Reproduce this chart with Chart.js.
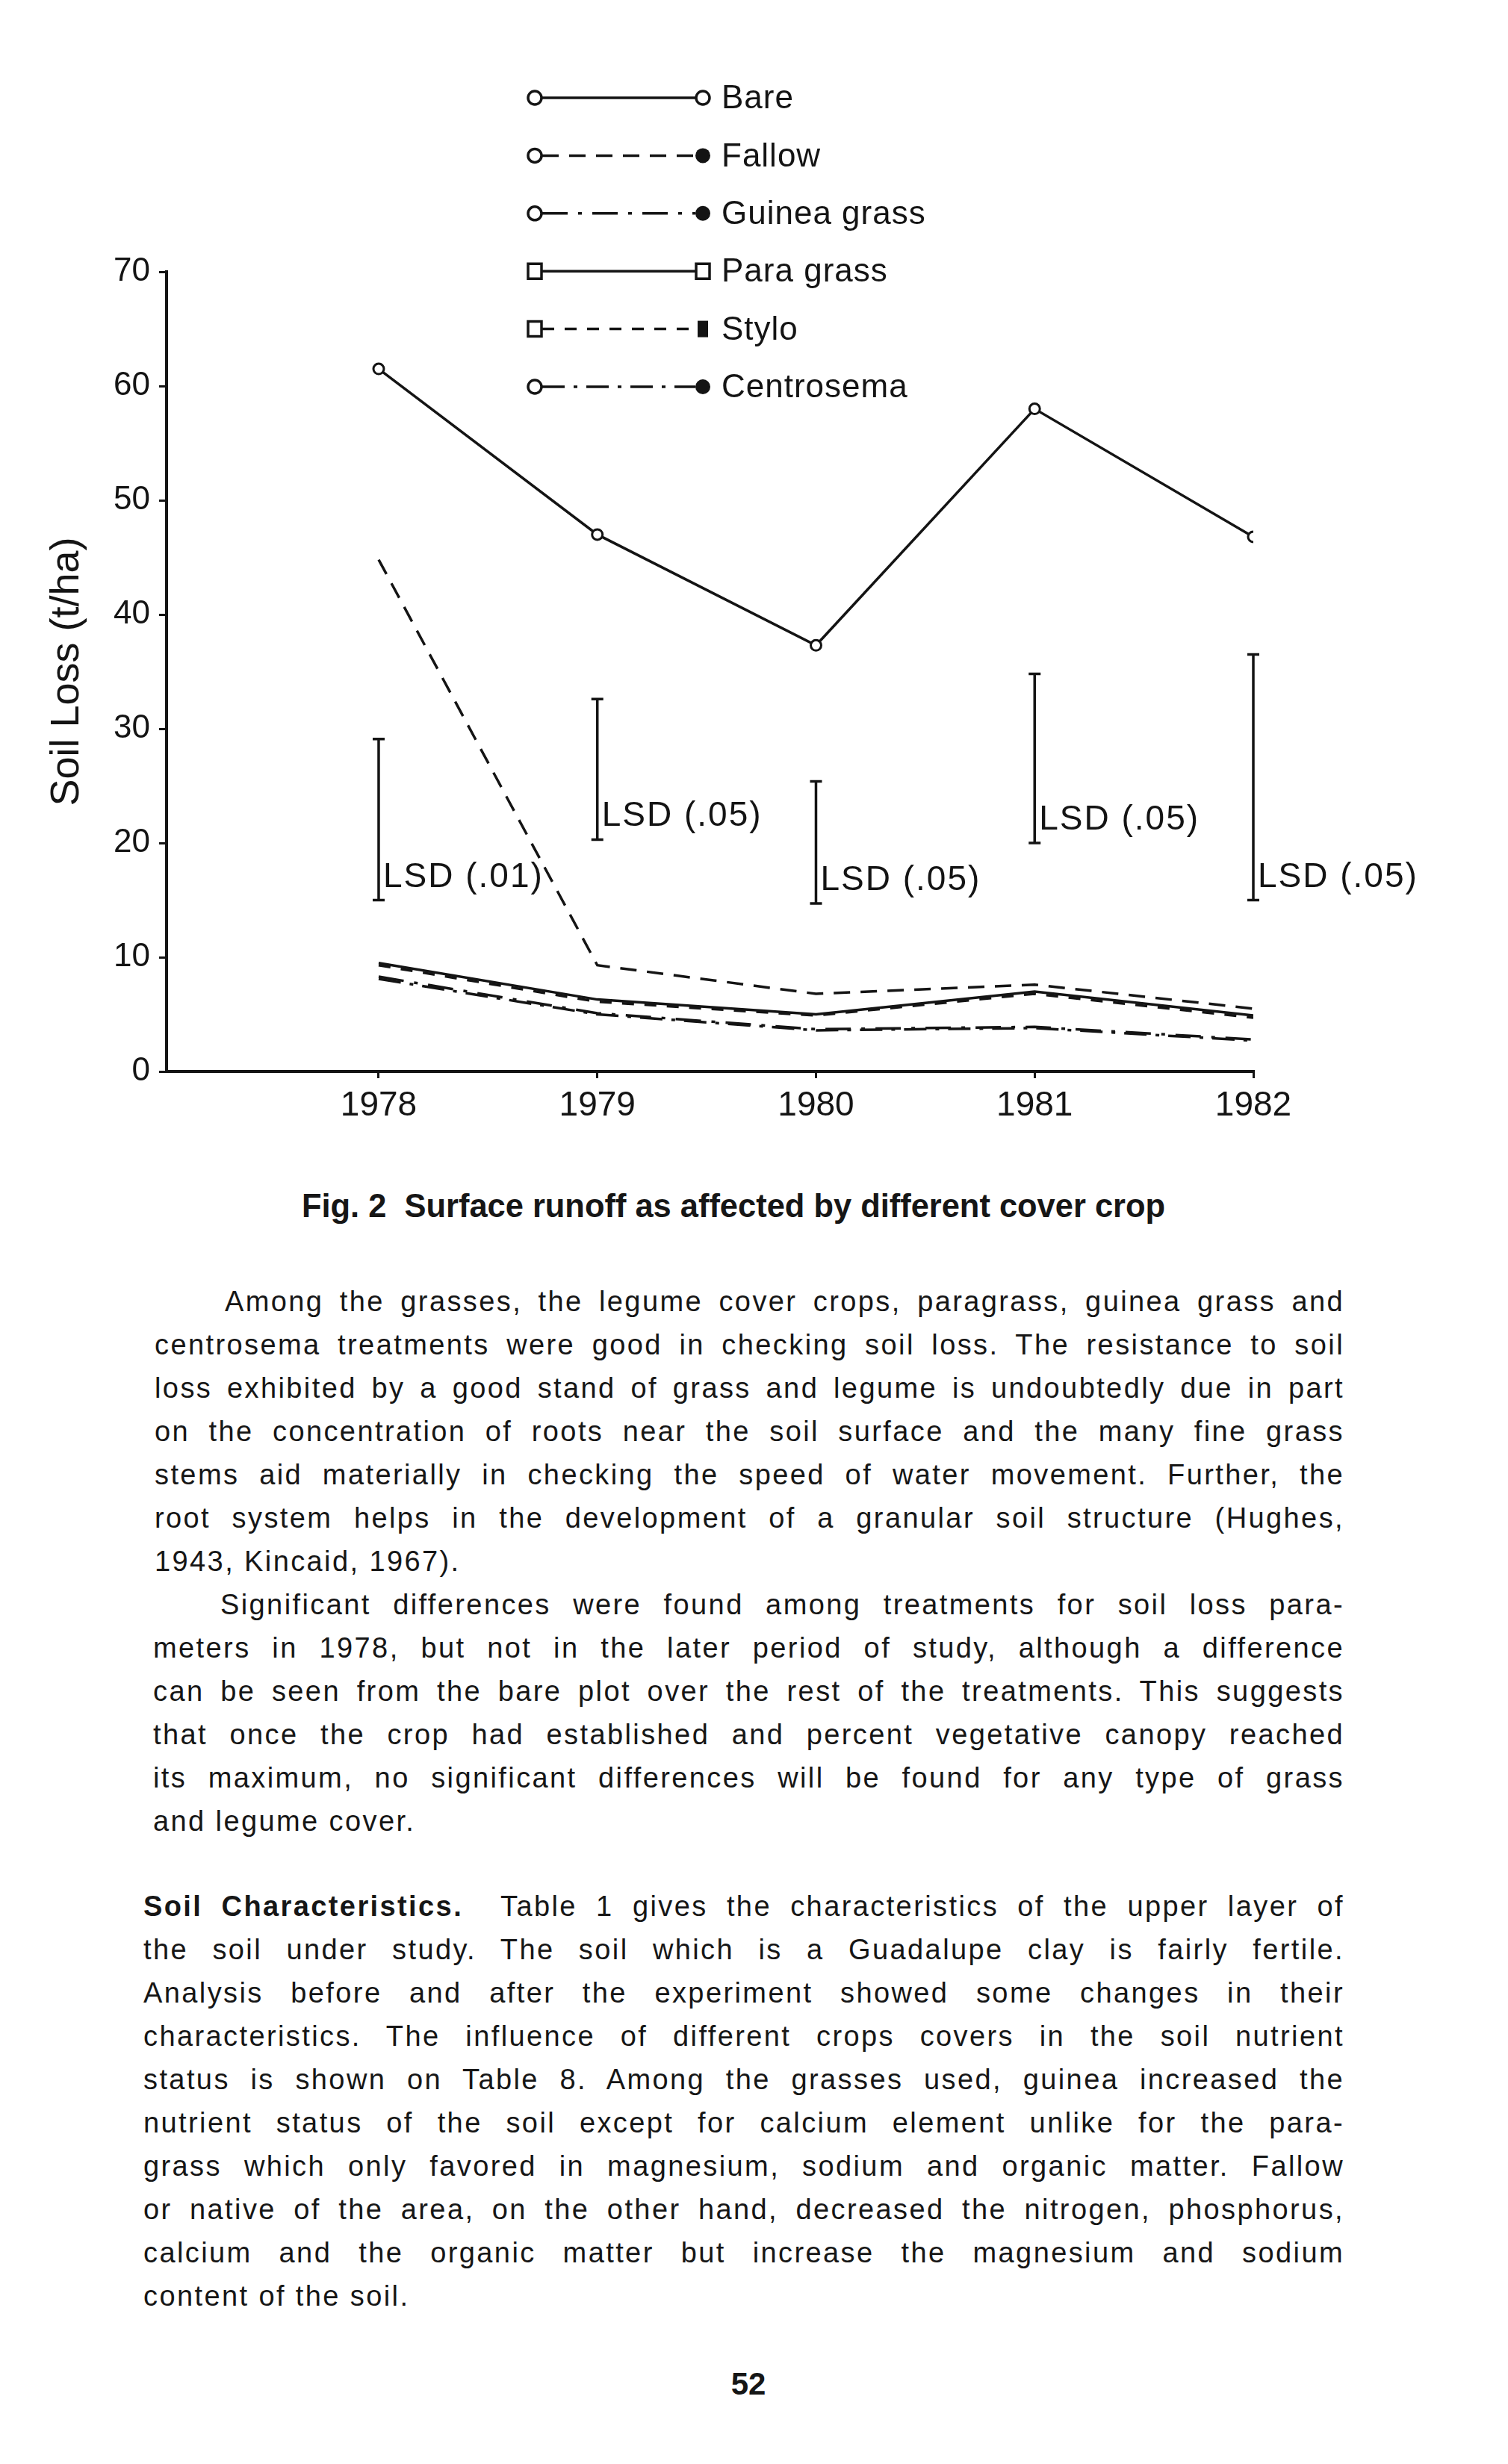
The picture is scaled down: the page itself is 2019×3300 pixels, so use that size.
<!DOCTYPE html>
<html>
<head>
<meta charset="utf-8">
<title>Fig. 2 Surface runoff as affected by different cover crop</title>
<script src="https://cdn.jsdelivr.net/npm/chart.js@4.4.0/dist/chart.umd.min.js"></script>
<style>
  html, body { margin: 0; padding: 0; background: #fff; }
  body {
    width: 2019px; height: 3300px; position: relative; overflow: hidden;
    font-family: 'Liberation Sans', Arial, sans-serif; color: #161616;
  }
  #chartBox { position: absolute; left: 0; top: 0; width: 2019px; height: 1560px; }
  .line {
    position: absolute; height: 58px; line-height: 58px;
    font-size: 38px; letter-spacing: 2.4px; white-space: nowrap;
    text-align: left; transform-origin: left center;
  }
  .line.just { text-align: justify; text-align-last: justify; }
  .caption {
    position: absolute; left: 404px; top: 1590px; width: 1156px;
    height: 50px; line-height: 50px; font-size: 44px; font-weight: bold;
    white-space: nowrap; transform-origin: left center;
  }
  .pageno {
    position: absolute; left: 952px; top: 3168px; width: 100px;
    text-align: center; font-size: 42px; font-weight: bold; line-height: 50px;
  }
</style>
</head>
<body>
<div id="chartBox"><canvas id="runoffChart" width="2019" height="1560"></canvas></div>
<div class="caption" id="caption">Fig. 2&nbsp; Surface runoff as affected by different cover crop</div>
<div id="bodyText"></div>
<div class="pageno">52</div>

<script>
'use strict';

// ── Data ────────────────────────────────────────────────────────────────────
const years       = [1978, 1979, 1980, 1981, 1982];
const bare        = [61.5, 47.0, 37.3, 58.0, 46.8];
const fallow      = [44.8, 9.3, 6.8, 7.6, 5.5];
const guineaGrass = [8.3, 5.1, 3.7, 3.9, 2.8];
const paraGrass   = [9.5, 6.3, 5.0, 7.0, 4.9];
const stylo       = [9.3, 6.1, 4.9, 6.8, 4.7];
const centrosema  = [8.1, 5.0, 3.6, 3.8, 2.7];

const yTicks = [0, 10, 20, 30, 40, 50, 60, 70];

// LSD bars per year
const lsdLow    = [15.0, 20.3, 14.7, 20.0, 15.0];
const lsdHigh   = [29.1, 32.6, 25.4, 34.8, 36.5];
const lsdLabels = ['LSD (.01)', 'LSD (.05)', 'LSD (.05)', 'LSD (.05)', 'LSD (.05)'];

// ── Style ───────────────────────────────────────────────────────────────────
const INK  = '#141414';
const FONT = "'Liberation Sans', Arial, sans-serif";
const X_MIN = 1977.03;

const toPoints = (vals) => years.map((yr, i) => ({ x: yr, y: vals[i] }));

const lineBase = {
  borderColor: INK,
  borderWidth: 3.5,
  pointRadius: 0,
  pointHoverRadius: 0,
  tension: 0,
  fill: false,
};

const datasets = [
  { ...lineBase, label: 'Bare', data: toPoints(bare), borderDash: [],
    pointRadius: 7, pointStyle: 'circle', pointBackgroundColor: '#fff',
    pointBorderColor: INK, pointBorderWidth: 3,
    legendStart: 'ring', legendEnd: 'ring' },
  { ...lineBase, label: 'Fallow', data: toPoints(fallow), borderDash: [22, 14],
    legendStart: 'ring', legendEnd: 'dot' },
  { ...lineBase, label: 'Guinea grass', data: toPoints(guineaGrass), borderDash: [34, 14, 5, 14],
    legendStart: 'ring', legendEnd: 'dot' },
  { ...lineBase, label: 'Para grass', data: toPoints(paraGrass), borderDash: [],
    legendStart: 'box', legendEnd: 'box' },
  { ...lineBase, label: 'Stylo', data: toPoints(stylo), borderDash: [16, 14],
    legendStart: 'box', legendEnd: 'block' },
  { ...lineBase, label: 'Centrosema', data: toPoints(centrosema), borderDash: [30, 12, 5, 12],
    legendStart: 'ring', legendEnd: 'dot' },
];

// ── Legend drawn like the printed key (line + end markers) ─────────────────
const LEG_X0 = 716, LEG_X1 = 941, LEG_TEXT_X = 966, LEG_Y0 = 131, LEG_STEP = 77.4;

function drawMarker(ctx, kind, x, y) {
  ctx.save();
  ctx.setLineDash([]);
  ctx.lineWidth = 3.5;
  ctx.strokeStyle = INK;
  ctx.fillStyle = INK;
  ctx.beginPath();
  if (kind === 'ring') {
    ctx.arc(x, y, 9, 0, Math.PI * 2);
    ctx.fillStyle = '#fff'; ctx.fill(); ctx.stroke();
  } else if (kind === 'dot') {
    ctx.arc(x, y, 10, 0, Math.PI * 2);
    ctx.fill();
  } else if (kind === 'box') {
    ctx.rect(x - 9, y - 10, 18, 20);
    ctx.fillStyle = '#fff'; ctx.fill(); ctx.stroke();
  } else if (kind === 'block') {
    ctx.rect(x - 7, y - 11, 14, 22);
    ctx.fill();
  }
  ctx.restore();
}

const paperLegend = {
  id: 'paperLegend',
  afterDraw(chart) {
    const ctx = chart.ctx;
    ctx.save();
    ctx.font = `44px ${FONT}`;
    ctx.letterSpacing = '1px';
    ctx.textBaseline = 'middle';
    ctx.fillStyle = INK;
    chart.data.datasets.forEach((ds, i) => {
      const yy = LEG_Y0 + i * LEG_STEP;
      ctx.save();
      ctx.strokeStyle = INK;
      ctx.lineWidth = 3.5;
      ctx.setLineDash(ds.borderDash || []);
      ctx.beginPath();
      ctx.moveTo(LEG_X0 + 10, yy);
      ctx.lineTo(LEG_X1 - 10, yy);
      ctx.stroke();
      ctx.restore();
      drawMarker(ctx, ds.legendStart, LEG_X0, yy);
      drawMarker(ctx, ds.legendEnd, LEG_X1, yy);
      ctx.fillText(ds.label, LEG_TEXT_X, yy + 2);
    });
    ctx.restore();
  },
};

// ── LSD bars with their labels ──────────────────────────────────────────────
const lsdBars = {
  id: 'lsdBars',
  afterDatasetsDraw(chart) {
    const { ctx, scales: { x, y } } = chart;
    ctx.save();
    ctx.strokeStyle = INK;
    ctx.fillStyle = INK;
    ctx.lineWidth = 3.5;
    ctx.setLineDash([]);
    ctx.font = `46px ${FONT}`;
    ctx.letterSpacing = '2px';
    ctx.textBaseline = 'middle';
    years.forEach((yr, i) => {
      const px = x.getPixelForValue(yr);
      const top = y.getPixelForValue(lsdHigh[i]);
      const bot = y.getPixelForValue(lsdLow[i]);
      ctx.beginPath();
      ctx.moveTo(px, top); ctx.lineTo(px, bot);
      ctx.moveTo(px - 8, top); ctx.lineTo(px + 8, top);
      ctx.moveTo(px - 8, bot); ctx.lineTo(px + 8, bot);
      ctx.stroke();
      ctx.fillText(lsdLabels[i], px + 6, y.getPixelForValue(lsdLow[i] + 2));
    });
    ctx.restore();
  },
};

// ── Chart ───────────────────────────────────────────────────────────────────
const chart = new Chart(document.getElementById('runoffChart'), {
  type: 'line',
  data: { datasets },
  plugins: [lsdBars, paperLegend],
  options: {
    responsive: false,
    animation: false,
    layout: { padding: { left: 0, top: 364, right: 341, bottom: 0 } },
    plugins: {
      legend: { display: false },
      tooltip: { enabled: false },
    },
    scales: {
      x: {
        type: 'linear',
        min: X_MIN,
        max: 1982,
        afterBuildTicks: (s) => { s.ticks = years.map((v) => ({ value: v })); },
        afterFit: (s) => { s.height = 125; },
        grid: { drawOnChartArea: false, drawTicks: true, tickLength: 9, color: INK, lineWidth: 3 },
        border: { display: true, color: INK, width: 4 },
        ticks: {
          color: INK,
          font: { family: FONT, size: 46 },
          padding: 10,
          maxRotation: 0,
          callback: (v) => String(v),
        },
      },
      y: {
        min: 0,
        max: 70,
        afterBuildTicks: (s) => { s.ticks = yTicks.map((v) => ({ value: v })); },
        afterFit: (s) => { s.width = 223; },
        grid: { drawOnChartArea: false, drawTicks: true, tickLength: 10, color: INK, lineWidth: 3 },
        border: { display: true, color: INK, width: 4 },
        ticks: {
          color: INK,
          font: { family: FONT, size: 44 },
          padding: 12,
        },
        title: {
          display: true,
          text: 'Soil Loss (t/ha)',
          color: INK,
          font: { family: FONT, size: 54 },
          padding: { top: 58, bottom: 0 },
        },
      },
    },
  },
});

// ── Page text below the figure ──────────────────────────────────────────────
const TEXT_RIGHT = 1800;
const LINE_H = 58;
const bodyParas = [
  { left: 207, top: 1714, indent: 94, lines: [
    'Among the grasses, the legume cover crops, paragrass, guinea grass and',
    'centrosema treatments were good in checking soil loss. The resistance to soil',
    'loss exhibited by a good stand of grass and legume is undoubtedly due in part',
    'on the concentration of roots near the soil surface and the many fine grass',
    'stems aid materially in checking the speed of water movement. Further, the',
    'root system helps in the development of a granular soil structure (Hughes,',
    '1943, Kincaid, 1967).',
  ] },
  { left: 205, top: 2120, indent: 90, lines: [
    'Significant differences were found among treatments for soil loss para-',
    'meters in 1978, but not in the later period of study, although a difference',
    'can be seen from the bare plot over the rest of the treatments. This suggests',
    'that once the crop had established and percent vegetative canopy reached',
    'its maximum, no significant differences will be found for any type of grass',
    'and legume cover.',
  ] },
  { left: 192, top: 2524, indent: 0, lines: [
    '<b>Soil Characteristics.</b>&nbsp; Table 1 gives the characteristics of the upper layer of',
    'the soil under study. The soil which is a Guadalupe clay is fairly fertile.',
    'Analysis before and after the experiment showed some changes in their',
    'characteristics. The influence of different crops covers in the soil nutrient',
    'status is shown on Table 8. Among the grasses used, guinea increased the',
    'nutrient status of the soil except for calcium element unlike for the para-',
    'grass which only favored in magnesium, sodium and organic matter. Fallow',
    'or native of the area, on the other hand, decreased the nitrogen, phosphorus,',
    'calcium and the organic matter but increase the magnesium and sodium',
    'content of the soil.',
  ] },
];

const bodyEl = document.getElementById('bodyText');
const fitLines = [];
bodyParas.forEach((p) => {
  p.lines.forEach((txt, i) => {
    const el = document.createElement('div');
    el.className = 'line';
    const left = p.left + (i === 0 ? p.indent : 0);
    el.style.left = left + 'px';
    el.style.top = (p.top + i * LINE_H) + 'px';
    el.style.width = (TEXT_RIGHT - left) + 'px';
    el.innerHTML = `<span>${txt}</span>`;
    bodyEl.appendChild(el);
    fitLines.push({ el, last: i === p.lines.length - 1 });
  });
});

// justify lines that are short, squeeze the ones that overflow
const fitText = () => {
  fitLines.forEach(({ el, last }) => {
    const target = parseFloat(el.style.width);
    const natural = el.firstChild.getBoundingClientRect().width;
    if (natural > target) {
      el.style.transform = `scaleX(${target / natural})`;
    } else if (!last) {
      el.classList.add('just');
    }
  });
  const cap = document.getElementById('caption');
  cap.innerHTML = `<span>${cap.innerHTML}</span>`;
  const w = cap.firstChild.getBoundingClientRect().width;
  if (w > 1156) cap.style.transform = `scaleX(${1156 / w})`;
  else { cap.style.textAlign = 'justify'; cap.style.textAlignLast = 'justify'; }
};

if (document.fonts && document.fonts.ready) document.fonts.ready.then(fitText);
else fitText();
</script>
</body>
</html>
